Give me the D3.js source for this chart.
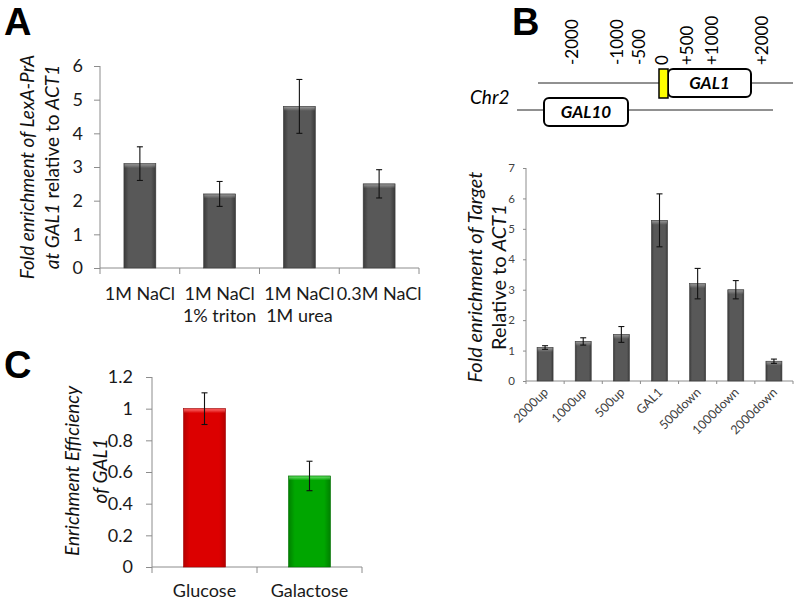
<!DOCTYPE html>
<html><head><meta charset="utf-8">
<script src="https://cdn.jsdelivr.net/npm/d3@7"></script>
<style>
body{margin:0;background:#fff;}
svg{display:block;font-family:Lato,"Open Sans",sans-serif;}
</style></head><body>
<svg id="c" width="800" height="602"></svg>
<script>
// ---------- DATA ----------
const catsA = ["1M NaCl","1M NaCl\n1% triton","1M NaCl\n1M urea","0.3M NaCl"];
const valuesA = [3.1, 2.2, 4.8, 2.5];
const errA = [0.5, 0.37, 0.8, 0.42];
const ticksA = [0,1,2,3,4,5,6];

const catsB = ["2000up","1000up","500up","GAL1","500down","1000down","2000down"];
const valuesB = [1.1, 1.3, 1.53, 5.28, 3.2, 3.0, 0.65];
const errB = [0.06, 0.12, 0.26, 0.87, 0.5, 0.3, 0.07];
const ticksB = [0,1,2,3,4,5,6,7];

const catsC = ["Glucose","Galactose"];
const valuesC = [1.0, 0.575];
const errC = [0.1, 0.093];
const ticksC = [0,0.2,0.4,0.6,0.8,1,1.2];
const colorsC = ["red","green"];

const posLabels = ["-2000","-1000","-500","0","+500","+1000","+2000"];
const posValues = [-2000,-1000,-500,0,500,1000,2000];

// ---------- SETUP ----------
const svg = d3.select("#c");
const defs = svg.append("defs");
function grad(id, edge, mid, top){
  const g = defs.append("linearGradient").attr("id", id).attr("x1","0").attr("x2","1").attr("y1","0").attr("y2","0");
  g.append("stop").attr("offset","0%").attr("stop-color", edge);
  g.append("stop").attr("offset","15%").attr("stop-color", mid);
  g.append("stop").attr("offset","85%").attr("stop-color", mid);
  g.append("stop").attr("offset","100%").attr("stop-color", edge);
  const t = defs.append("linearGradient").attr("id", id+"t").attr("x1","0").attr("x2","0").attr("y1","0").attr("y2","1");
  t.append("stop").attr("offset","0%").attr("stop-color", top).attr("stop-opacity",0.9);
  t.append("stop").attr("offset","100%").attr("stop-color", top).attr("stop-opacity",0);
}
grad("gray","#3a3a3a","#585858","#9a9a9a");
grad("red","#b40000","#dc0000","#ff7070");
grad("green","#008000","#00a600","#70e070");

function bandBoundaries(x, n){
  return d3.range(n+1).map(i => x.range()[0] + i*x.step());
}

function drawChart(o){
  const g = svg.append("g");
  const x = d3.scaleBand().domain(o.cats).range(o.xr).paddingInner(o.pad).paddingOuter(o.pad/2);
  const y = d3.scaleLinear().domain(o.yd).range(o.yr);
  const ya = g.append("g").attr("transform",`translate(${o.xr[0]},0)`)
    .call(d3.axisLeft(y).tickValues(o.ticks).tickSize(o.tick).tickPadding(o.tpad).tickFormat(d=>String(d)));
  ya.select(".domain").attr("stroke","#8c8c8c").attr("d",`M0,${o.yr[0]}V${o.yr[1]}`);
  ya.selectAll(".tick line").attr("stroke","#8c8c8c");
  ya.selectAll(".tick text").attr("font-size",o.tfs).attr("fill",o.tcol).attr("font-family",'Lato, sans-serif');
  g.append("line").attr("x1",o.xr[0]).attr("x2",o.xr[1]).attr("y1",o.yr[0]).attr("y2",o.yr[0]).attr("stroke","#8c8c8c");
  g.selectAll(".xt").data(bandBoundaries(x,o.cats.length)).enter().append("line")
    .attr("x1",d=>d).attr("x2",d=>d).attr("y1",o.yr[0]).attr("y2",o.yr[0]+o.tick).attr("stroke","#8c8c8c");
  o.cats.forEach((c,i)=>{
    const v = o.vals[i];
    const fill = o.fills ? o.fills[i] : "gray";
    g.append("rect").attr("x",x(c)).attr("y",y(v)).attr("width",x.bandwidth()).attr("height",y(0)-y(v))
      .attr("fill",`url(#${fill})`).attr("stroke", fill==="gray"?"#3a3a3a":(fill==="red"?"#a00000":"#007000")).attr("stroke-width",0.6);
    g.append("rect").attr("x",x(c)+0.5).attr("y",y(v)+0.5).attr("width",x.bandwidth()-1).attr("height",4)
      .attr("fill",`url(#${fill}t)`);
    const cx = x(c)+x.bandwidth()/2;
    const e = o.errs[i];
    const eb = g.append("g").attr("stroke","#111").attr("stroke-width",1.1);
    eb.append("line").attr("x1",cx).attr("x2",cx).attr("y1",y(v+e)).attr("y2",y(v-e));
    eb.append("line").attr("x1",cx-o.cap).attr("x2",cx+o.cap).attr("y1",y(v+e)).attr("y2",y(v+e));
    eb.append("line").attr("x1",cx-o.cap).attr("x2",cx+o.cap).attr("y1",y(v-e)).attr("y2",y(v-e));
  });
  return {g,x,y};
}

// ---------- PANEL A ----------
const A = drawChart({cats:catsA, vals:valuesA, errs:errA, ticks:ticksA, xr:[100,419], yr:[268,66], yd:[0,6],
  pad:0.6, tick:6, tpad:11, tfs:18, tcol:"#1a1a1a", cap:3});
catsA.forEach((c)=>{
  const lines = c.split("\n");
  const cx = A.x(c)+A.x.bandwidth()/2;
  lines.forEach((l,j)=>{
    A.g.append("text").attr("x",cx).attr("y",300+j*22).attr("text-anchor","middle").attr("font-size",18).attr("fill","#1a1a1a").text(l);
  });
});
function yTitle(x, yc, parts, fs){
  const t = svg.append("text").attr("transform",`translate(${x},${yc}) rotate(-90)`).attr("text-anchor","middle")
    .attr("font-size",fs).attr("fill","#111").attr("dy","0.35em");
  parts.forEach(p=>t.append("tspan").attr("font-style",p[1]?"italic":"normal").text(p[0]));
}
yTitle(27,167,[["Fold enrichment of LexA-PrA",true]],19);
yTitle(52,167,[["at GAL1",true],[" relative to ",false],["ACT1",true]],19);
svg.append("text").attr("x",4).attr("y",35).attr("font-size",38).attr("font-weight","bold").attr("font-family","Liberation Sans, Arial, sans-serif").text("A");

// ---------- PANEL B ----------
const B = drawChart({cats:catsB, vals:valuesB, errs:errB, ticks:ticksB, xr:[526,793], yr:[381,168], yd:[0,7],
  pad:0.58, tick:3, tpad:8, tfs:11.5, tcol:"#404040", cap:3});
catsB.forEach(c=>{
  const cx = B.x(c)+B.x.bandwidth()/2;
  B.g.append("text").attr("transform",`translate(${cx+4},${393}) rotate(-45)`).attr("text-anchor","end")
    .attr("font-size",12.5).attr("fill","#404040").text(c);
});
yTitle(475,277,[["Fold enrichment of Target",true]],20);
yTitle(499,277,[["Relative to ",false],["ACT1",true]],20);
svg.append("text").attr("x",512).attr("y",35).attr("font-size",38).attr("font-weight","bold").attr("font-family","Liberation Sans, Arial, sans-serif").text("B");

// diagram
const pos = d3.scaleLinear().domain([-2000,0,2000]).range([572,662,762]);
const dg = svg.append("g");
dg.append("line").attr("x1",538).attr("x2",793).attr("y1",83).attr("y2",83).attr("stroke","#222").attr("stroke-width",1);
dg.append("line").attr("x1",517).attr("x2",773).attr("y1",110).attr("y2",110).attr("stroke","#222").attr("stroke-width",1);
dg.append("rect").attr("x",pos(0)+6).attr("y",69).attr("width",83).attr("height",28).attr("rx",5).attr("fill","#fff").attr("stroke","#000").attr("stroke-width",2);
dg.append("rect").attr("x",pos(0)-3).attr("y",69).attr("width",9).attr("height",29).attr("fill","#ffff00").attr("stroke","#000").attr("stroke-width",1.5);
dg.append("text").attr("x",pos(0)+47.5).attr("y",83).attr("dy","0.35em").attr("text-anchor","middle").attr("font-size",17).attr("font-weight","bold").attr("font-style","italic").text("GAL1");
dg.append("rect").attr("x",544).attr("y",98).attr("width",84).attr("height",28).attr("rx",5).attr("fill","#fff").attr("stroke","#000").attr("stroke-width",2);
dg.append("text").attr("x",586).attr("y",112).attr("dy","0.35em").attr("text-anchor","middle").attr("font-size",17).attr("font-weight","bold").attr("font-style","italic").text("GAL10");
dg.append("text").attr("x",470).attr("y",104).attr("font-size",19).attr("font-style","italic").text("Chr2");
posValues.forEach((v,i)=>{
  dg.append("text").attr("transform",`translate(${pos(v)},65) rotate(-90)`).attr("dy","0.35em").attr("text-anchor","start")
    .attr("font-size",17).text(posLabels[i]);
});

// ---------- PANEL C ----------
const C = drawChart({cats:catsC, vals:valuesC, errs:errC, ticks:ticksC, xr:[152,362], yr:[567,377], yd:[0,1.2],
  pad:0.6, tick:6, tpad:13, tfs:18, tcol:"#1a1a1a", cap:3, fills:colorsC});
catsC.forEach(c=>{
  const cx = C.x(c)+C.x.bandwidth()/2;
  C.g.append("text").attr("x",cx).attr("y",597).attr("text-anchor","middle").attr("font-size",18).attr("fill","#1a1a1a").text(c);
});
yTitle(72,471,[["Enrichment Efficiency",true]],19);
yTitle(100,471,[["of GAL1",true]],19);
svg.append("text").attr("x",4).attr("y",378).attr("font-size",38).attr("font-weight","bold").attr("font-family","Liberation Sans, Arial, sans-serif").text("C");
</script></body></html>
